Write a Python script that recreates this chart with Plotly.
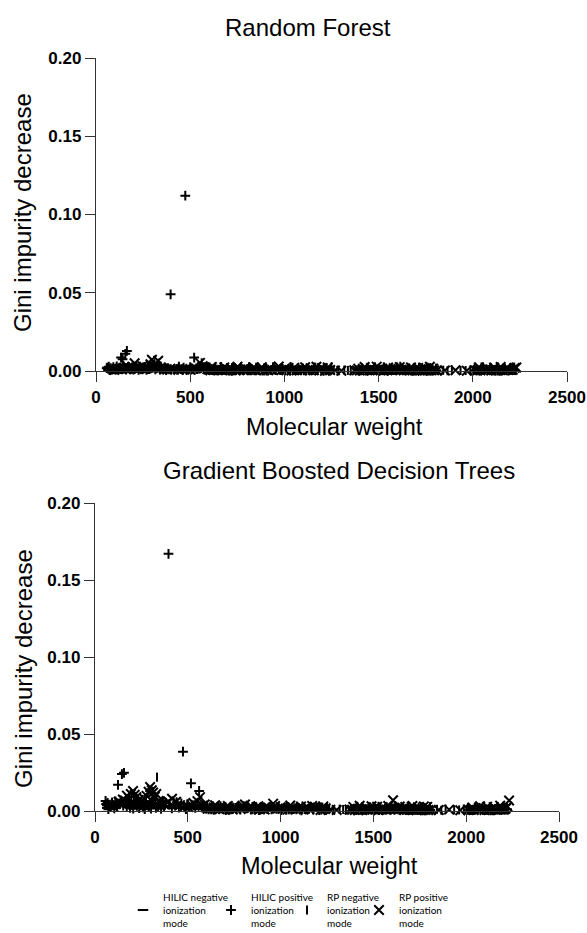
import plotly.graph_objects as go

# ---------------- data ----------------
# Molecular weight of features, per acquisition mode
hneg_mw = [66, 89, 113, 137, 162, 191, 222, 253, 287, 318, 351, 386, 421, 459, 498, 544, 593, 647, 698, 751,
           803, 857, 912, 967, 1021, 1079, 1133, 1190, 1231, 1255, 1448, 1495, 1540, 1585, 1627, 1668, 1716, 1760, 1805, 2050,
           568, 620, 672, 724, 777, 830, 884, 939, 994, 1050, 1106, 1161, 1211, 1468, 1518, 1562, 1606, 1648, 1692, 1738,
           1782, 2070, 2110, 75, 149, 237, 302, 404, 478,
           585, 608, 633, 659, 684, 711, 737, 764, 790, 816, 843, 870, 898, 925, 953, 980, 1008, 1035, 1063, 1092,
           1120, 1147, 1176, 1203, 1222, 1425, 1575, 1655, 1725, 2095]
hpos_mw = [57, 72, 85, 96, 104, 118, 124, 133, 141, 145, 152, 156, 164, 171, 180, 189, 198, 206, 215, 226,
           238, 247, 259, 268, 281, 290, 302, 315, 328, 340, 356, 372, 396, 414, 431, 452, 474, 490, 508, 517,
           521, 540, 561, 585, 612, 640, 671, 705, 742, 783, 818, 862, 905, 951, 1004, 1058, 1112, 1176, 1240, 1395,
           1455, 1530, 1575, 1620, 1690, 1735, 1780, 2025, 2090, 2150, 2205,
           598, 626, 655, 688, 723, 762, 800, 840, 883, 928, 977, 1030, 1085, 1144, 1208, 1410, 1440, 1470, 1500, 1515,
           1545, 1560, 1590, 1605, 1640, 1660, 1675, 1710, 1750, 1765, 2010, 2040, 2060, 2110, 2130, 2170, 2190, 2220,
           60, 64, 68, 78, 92, 110, 129, 175, 210, 232, 252, 275, 296, 322, 348, 365, 382, 440, 465, 500,
           532, 552, 575, 603, 633, 664, 697, 731, 770, 808, 850, 893, 940, 990, 1043, 1098, 1160, 1225, 1480, 1615]
rneg_mw = [104, 131, 158, 187, 219, 248, 276, 305, 334, 366, 399, 428, 462, 497, 536, 578, 619, 664, 712, 757,
           801, 846, 889, 931, 978, 1022, 1067, 1108, 1153, 1197, 1241, 1286, 1318, 1337, 1352, 1389, 1432, 1476, 1521, 1563,
           1589, 1631, 1677, 1721, 1768, 1812, 1843, 1866, 1889, 1935, 1962, 1987, 2003, 2038, 2079, 2104, 2140, 2163, 2192, 2214,
           600, 641, 688, 734, 779, 823, 867, 910, 954, 1000, 1044, 1088, 1130, 1175, 1219, 1262, 1405, 1418, 1447, 1462,
           1490, 1505, 1536, 1549, 1577, 1603, 1617, 1646, 1662, 1691, 1707, 1736, 1752, 1783, 1798, 2018, 2055, 2090, 2118, 2152,
           2178, 2203, 2225,
           590, 632, 676, 722, 768, 812, 856, 899, 942, 989, 1033, 1077, 1118, 1164, 1208, 1250, 1395, 1440, 1484, 1528,
           1570, 1596, 1624, 1654, 1684, 1714, 1744, 1775, 1805, 2010, 2046, 2072, 2128, 2170, 2198, 2220]
rpos_mw = [98, 112, 127, 138, 150, 161, 172, 184, 193, 205, 214, 223, 235, 246, 257, 266, 278, 289, 297, 306,
           313, 322, 330, 343, 361, 378, 395, 415, 437, 458, 483, 502, 530, 552, 566, 591, 623, 655, 690, 724,
           760, 808, 847, 893, 935, 960, 1010, 1066, 1124, 1185, 1268, 1302, 1371, 1419, 1468, 1510, 1557, 1606, 1650, 1702,
           1748, 1796, 1852, 1908, 1968, 2012, 2068, 2121, 2176, 2231,
           607, 639, 672, 707, 742, 784, 828, 870, 914, 985, 1038, 1095, 1155, 1215, 1243, 1385, 1400, 1434, 1452, 1484,
           1497, 1528, 1543, 1572, 1590, 1620, 1635, 1666, 1680, 1718, 1733, 1764, 1780, 1810, 2025, 2040, 2083, 2098, 2135, 2160,
           2190, 2212,
           580, 615, 647, 681, 716, 751, 795, 838, 880, 924, 970, 1000, 1052, 1110, 1140, 1170, 1200, 1230, 1392, 1426,
           1460, 1490, 1520, 1550, 1580, 1612, 1642, 1672, 1710, 1740, 1772, 1790, 2033, 2075, 2113, 2148, 2183, 2222]

# Gini impurity decrease - Random Forest
rf_hneg = [.0005, .0008, .0012, .0009, .0015, .0011, .0018, .0007, .0013, .0010,
           .0006, .0009, .0005, .0008, .0004, .0007, .0003, .0006, .0005, .0004,
           .0007, .0003, .0005, .0004, .0006, .0002, .0005, .0003, .0004, .0006,
           .0003, .0005, .0002, .0004, .0006, .0003, .0005, .0002, .0004, .0003,
           .0004, .0006, .0003, .0005, .0007, .0004, .0002, .0006, .0003, .0005,
           .0004, .0002, .0005, .0003, .0006, .0004, .0007, .0003, .0005, .0002,
           .0004, .0003, .0005, .0009, .0014, .0011, .0016, .0008, .0010,
           .0018, .0024, .0015, .0027, .0020, .0012, .0026, .0017, .0022, .0014,
           .0025, .0019, .0011, .0023, .0016, .0028, .0013, .0021, .0018, .0026,
           .0012, .0020, .0015, .0024, .0017, .0022, .0014, .0025, .0019, .0016]
rf_hpos = [.0018, .0006, .0009, .0012, .0007, .0015, .0021, .0086, .0075, .0032,
           .0018, .0110, .0128, .0024, .0011, .0016, .0009, .0013, .0022, .0008,
           .0014, .0010, .0019, .0007, .0012, .0017, .0026, .0011, .0020, .0009,
           .0013, .0006, .0490, .0010, .0007, .0012, .1120, .0008, .0015, .0011,
           .0086, .0014, .0050, .0019, .0006, .0004, .0007, .0003, .0005, .0008,
           .0004, .0006, .0003, .0007, .0004, .0005, .0003, .0006, .0004, .0003,
           .0005, .0004, .0007, .0012, .0004, .0006, .0003, .0004, .0006, .0003, .0005,
           .0007, .0004, .0009, .0005, .0003, .0006, .0008, .0004, .0002, .0005,
           .0007, .0003, .0006, .0004, .0002, .0005, .0003, .0006, .0004, .0008,
           .0003, .0005, .0007, .0010, .0004, .0006, .0003, .0005, .0004, .0002,
           .0005, .0003, .0006, .0004, .0002, .0005, .0003, .0006,
           .0022, .0015, .0027, .0019, .0024, .0030, .0017, .0026, .0021, .0028,
           .0016, .0025, .0020, .0029, .0014, .0023, .0018, .0027, .0021, .0024,
           .0016, .0028, .0019, .0023, .0013, .0026, .0020, .0017, .0024, .0014,
           .0022, .0018, .0025, .0012, .0021, .0016, .0023, .0019, .0024, .0028]
rf_rneg = [.0010, .0014, .0020, .0012, .0017, .0025, .0011, .0019, .0030, .0013,
           .0009, .0015, .0007, .0012, .0010, .0006, .0008, .0011, .0005, .0009,
           .0013, .0006, .0004, .0008, .0005, .0007, .0003, .0006, .0004, .0008,
           .0005, .0003, .0006, .0004, .0002, .0007, .0005, .0009, .0004, .0006,
           .0003, .0008, .0005, .0004, .0007, .0003, .0005, .0002, .0006, .0004,
           .0003, .0007, .0005, .0002, .0006, .0004, .0008, .0003, .0005, .0004,
           .0006, .0004, .0008, .0003, .0005, .0007, .0004, .0002, .0006, .0005,
           .0003, .0007, .0004, .0006, .0002, .0005, .0004, .0006, .0003, .0008,
           .0005, .0004, .0007, .0003, .0006, .0010, .0004, .0005, .0003, .0006,
           .0004, .0002, .0005, .0007, .0003, .0004, .0006, .0003, .0005, .0002,
           .0004, .0006, .0003,
           .0019, .0025, .0014, .0022, .0017, .0027, .0012, .0021, .0024, .0016,
           .0028, .0013, .0020, .0023, .0015, .0026, .0018, .0022, .0014, .0025,
           .0019, .0027, .0013, .0021, .0017, .0024, .0015, .0022, .0018, .0020,
           .0026, .0014, .0023, .0017, .0021, .0025]
rf_rpos = [.0008, .0012, .0015, .0010, .0019, .0013, .0022, .0017, .0028, .0050,
           .0024, .0016, .0020, .0031, .0014, .0018, .0025, .0043, .0072, .0036,
           .0048, .0029, .0066, .0021, .0012, .0009, .0015, .0011, .0008, .0013,
           .0010, .0007, .0016, .0052, .0030, .0012, .0006, .0009, .0005, .0008,
           .0004, .0010, .0006, .0004, .0007, .0009, .0005, .0004, .0006, .0003,
           .0004, .0002, .0005, .0003, .0006, .0004, .0008, .0011, .0005, .0003,
           .0006, .0004, .0003, .0005, .0002, .0004, .0006, .0003, .0007, .0022,
           .0005, .0008, .0004, .0006, .0003, .0007, .0005, .0009, .0004, .0006,
           .0003, .0005, .0004, .0002, .0006, .0004, .0003, .0007, .0005, .0004,
           .0006, .0003, .0008, .0004, .0005, .0009, .0006, .0003, .0005, .0004,
           .0002, .0006, .0004, .0003, .0005, .0004, .0006, .0003, .0005, .0004,
           .0006, .0008,
           .0020, .0026, .0015, .0023, .0018, .0028, .0013, .0022, .0025, .0017,
           .0029, .0014, .0021, .0024, .0016, .0027, .0019, .0023, .0015, .0026,
           .0020, .0028, .0014, .0022, .0018, .0025, .0016, .0023, .0019, .0021,
           .0027, .0015, .0024, .0018, .0022, .0026, .0017, .0020]

# Gini impurity decrease - Gradient Boosted Decision Trees
gb_hneg = [.0020, .0032, .0045, .0038, .0052, .0041, .0060, .0030, .0047, .0036,
           .0025, .0033, .0022, .0028, .0018, .0024, .0012, .0019, .0015, .0011,
           .0016, .0008, .0013, .0010, .0014, .0006, .0011, .0007, .0009, .0012,
           .0006, .0009, .0005, .0008, .0011, .0006, .0009, .0004, .0007, .0005,
           .0012, .0009, .0014, .0007, .0011, .0008, .0013, .0006, .0010, .0008,
           .0005, .0009, .0007, .0006, .0009, .0005, .0008, .0006, .0004, .0007,
           .0005, .0006, .0004, .0028, .0055, .0048, .0062, .0035, .0026,
           .0026, .0031, .0022, .0035, .0028, .0019, .0033, .0024, .0030, .0021,
           .0032, .0027, .0018, .0029, .0023, .0034, .0020, .0028, .0025, .0031,
           .0017, .0026, .0022, .0030, .0024, .0027, .0019, .0031, .0025, .0022]
gb_hpos = [.0065, .0012, .0025, .0040, .0018, .0030, .0170, .0045, .0060, .0240,
           .0035, .0248, .0050, .0028, .0062, .0020, .0042, .0015, .0055, .0033,
           .0019, .0047, .0024, .0012, .0038, .0029, .0016, .0044, .0021, .0031,
           .0014, .0026, .1670, .0018, .0035, .0022, .0385, .0013, .0027, .0180,
           .0040, .0020, .0130, .0030, .0011, .0008, .0015, .0006, .0012, .0009,
           .0018, .0007, .0013, .0010, .0006, .0011, .0005, .0009, .0007, .0005,
           .0008, .0006, .0010, .0014, .0006, .0009, .0005, .0006, .0008, .0005, .0007,
           .0016, .0010, .0021, .0012, .0008, .0014, .0019, .0009, .0006, .0012,
           .0015, .0007, .0011, .0009, .0006, .0008, .0005, .0010, .0007, .0012,
           .0006, .0009, .0011, .0016, .0007, .0010, .0006, .0008, .0007, .0005,
           .0008, .0006, .0010, .0007, .0005, .0009, .0006, .0011,
           .0045, .0038, .0052, .0041, .0056, .0062, .0048, .0067, .0058, .0071,
           .0050, .0064, .0055, .0069, .0046, .0060, .0052, .0057, .0049, .0044,
           .0036, .0041, .0033, .0029, .0024, .0031, .0026, .0022, .0028, .0019,
           .0025, .0021, .0027, .0018, .0023, .0020, .0026, .0021, .0024, .0030]
gb_rneg = [.0035, .0050, .0062, .0048, .0070, .0055, .0042, .0066, .0220, .0058,
           .0040, .0052, .0030, .0045, .0036, .0020, .0025, .0032, .0015, .0022,
           .0034, .0018, .0012, .0020, .0014, .0019, .0010, .0016, .0011, .0023,
           .0013, .0008, .0012, .0010, .0006, .0015, .0011, .0018, .0009, .0013,
           .0007, .0016, .0010, .0009, .0014, .0006, .0011, .0005, .0012, .0008,
           .0007, .0013, .0010, .0005, .0012, .0009, .0015, .0007, .0010, .0008,
           .0018, .0012, .0020, .0009, .0014, .0017, .0010, .0007, .0013, .0011,
           .0008, .0015, .0010, .0012, .0006, .0009, .0007, .0011, .0006, .0013,
           .0009, .0007, .0012, .0006, .0010, .0014, .0008, .0009, .0006, .0011,
           .0007, .0005, .0009, .0012, .0006, .0007, .0010, .0006, .0009, .0005,
           .0008, .0011, .0006,
           .0030, .0026, .0033, .0021, .0028, .0024, .0031, .0019, .0027, .0023,
           .0029, .0020, .0032, .0025, .0022, .0028, .0018, .0026, .0023, .0030,
           .0019, .0027, .0024, .0021, .0029, .0017, .0025, .0022, .0028, .0020,
           .0026, .0023, .0019, .0027, .0024, .0021]
gb_rpos = [.0030, .0045, .0060, .0052, .0075, .0068, .0100, .0082, .0110, .0130,
           .0105, .0090, .0072, .0058, .0064, .0080, .0098, .0125, .0156, .0135,
           .0120, .0092, .0110, .0066, .0050, .0044, .0062, .0080, .0060, .0038,
           .0030, .0026, .0052, .0064, .0090, .0042, .0018, .0022, .0012, .0020,
           .0015, .0042, .0025, .0016, .0022, .0048, .0014, .0019, .0011, .0028,
           .0008, .0006, .0010, .0007, .0012, .0009, .0015, .0070, .0013, .0008,
           .0011, .0007, .0006, .0009, .0005, .0007, .0010, .0006, .0012, .0068,
           .0015, .0022, .0011, .0018, .0009, .0020, .0013, .0025, .0010, .0016,
           .0009, .0014, .0011, .0007, .0018, .0008, .0006, .0012, .0009, .0007,
           .0011, .0006, .0013, .0008, .0010, .0016, .0011, .0006, .0009, .0008,
           .0005, .0010, .0008, .0006, .0009, .0007, .0011, .0006, .0009, .0008,
           .0012, .0015,
           .0034, .0029, .0037, .0025, .0032, .0028, .0035, .0023, .0031, .0027,
           .0033, .0024, .0036, .0029, .0026, .0032, .0022, .0030, .0027, .0034,
           .0023, .0031, .0028, .0025, .0033, .0021, .0029, .0026, .0032, .0024,
           .0030, .0027, .0023, .0031, .0028, .0025, .0035, .0029]

series_names = ["HILIC negative<br>ionization<br>mode", "HILIC positive<br>ionization<br>mode",
                "RP negative<br>ionization<br>mode", "RP positive<br>ionization<br>mode"]
x_ticks = [0, 500, 1000, 1500, 2000, 2500]
y_ticks = [0.00, 0.05, 0.10, 0.15, 0.20]

# ---------------- figure ----------------
W, H = 587, 933
def fx(p):
    return p / W
def fy(p):
    return 1 - p / H

symbols = ["line-ew", "cross-thin", "line-ns", "x-thin"]
sizes = [7.5, 7, 6.5, 9.5]
leg_widths = [43, 31, 27, 70]
mws = [hneg_mw, hpos_mw, rneg_mw, rpos_mw]
rf_vals = [rf_hneg, rf_hpos, rf_rneg, rf_rpos]
gb_vals = [gb_hneg, gb_hpos, gb_rneg, gb_rpos]

fig = go.Figure()
for i in range(4):
    mk = dict(symbol=symbols[i], size=sizes[i], color="black", line=dict(width=2, color="black"))
    fig.add_trace(go.Scatter(x=mws[i], y=rf_vals[i], mode="markers", name=series_names[i],
                             marker=mk, cliponaxis=False, xaxis="x", yaxis="y",
                             legendgroup=str(i), legendwidth=leg_widths[i]))
for i in range(4):
    mk = dict(symbol=symbols[i], size=sizes[i], color="black", line=dict(width=2, color="black"))
    fig.add_trace(go.Scatter(x=mws[i], y=gb_vals[i], mode="markers", name=series_names[i],
                             marker=mk, cliponaxis=False, xaxis="x2", yaxis="y2",
                             legendgroup=str(i), showlegend=False))

FONT = "Liberation Sans, Arial, sans-serif"
axis_common = dict(showline=True, linecolor="#333", linewidth=1.3, ticks="outside", ticklen=10,
                   tickwidth=1.3, tickcolor="#333", showgrid=False, zeroline=False, automargin=False,
                   tickfont=dict(family=FONT, size=17, color="black", weight="bold"))

fig.update_layout(
    width=W, height=H, margin=dict(l=0, r=0, t=0, b=0, autoexpand=False),
    paper_bgcolor="white", plot_bgcolor="white",
    xaxis=dict(domain=[fx(96), fx(567)], range=[0, 2500], tickvals=x_ticks, anchor="y", **axis_common),
    yaxis=dict(domain=[fy(371), fy(58)], range=[0, 0.2], tickvals=y_ticks, tickformat=".2f",
               anchor="x", **axis_common),
    xaxis2=dict(domain=[fx(95), fx(559)], range=[0, 2500], tickvals=x_ticks, anchor="y2", **axis_common),
    yaxis2=dict(domain=[fy(811), fy(503)], range=[0, 0.2], tickvals=y_ticks, tickformat=".2f",
                anchor="x2", **axis_common),
    showlegend=True,
    legend=dict(orientation="h", x=fx(123), y=fy(884), xanchor="left", yanchor="top",
                font=dict(family="Lato, Noto Sans, sans-serif", size=10, color="black"),
                itemwidth=30, valign="middle", bgcolor="rgba(0,0,0,0)"),
)

def ann(text, x, y, size, angle=0):
    fig.add_annotation(text=text, x=fx(x), y=fy(y), xref="paper", yref="paper",
                       xanchor="center", yanchor="middle", showarrow=False, textangle=angle,
                       font=dict(family=FONT, size=size, color="black"))

ann("Random Forest", 308, 27, 24)
ann("Gradient Boosted Decision Trees", 339, 470, 24)
ann("Molecular weight", 334, 427, 23.5)
ann("Molecular weight", 329, 866, 23.5)
ann("Gini impurity decrease", 23, 213, 24, -90)
ann("Gini impurity decrease", 23, 669, 24, -90)

fig.write_html("out.html")
